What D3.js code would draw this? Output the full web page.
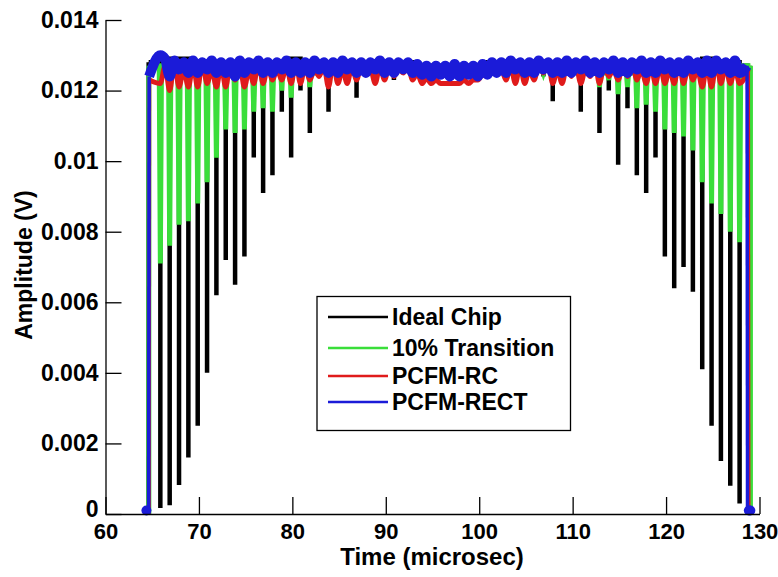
<!DOCTYPE html>
<html>
<head>
<meta charset="utf-8">
<script src="https://cdn.jsdelivr.net/npm/d3@7"></script>
<style>
  html, body { margin: 0; padding: 0; background: #fff; }
  svg { display: block; }
  text { font-family: "Liberation Sans", Arial, sans-serif; font-weight: bold; fill: #000; }
</style>
</head>
<body>
<svg id="chart" width="778" height="577"></svg>
<script>
// ---- axis ticks ----
const xTicks = [60, 70, 80, 90, 100, 110, 120, 130];
const yTicks = [0, 0.002, 0.004, 0.006, 0.008, 0.01, 0.012, 0.014];
const yTickLabels = ["0", "0.002", "0.004", "0.006", "0.008", "0.01", "0.012", "0.014"];

// ---- series ----
const seriesNames = ["Ideal Chip", "10% Transition", "PCFM-RC", "PCFM-RECT"];

// chip boundary times (microsec), one per phase change between consecutive chips
const edgeTimes = [
  65.87, 66.87, 67.87, 68.87, 69.87, 70.87, 71.87, 72.87, 73.87, 74.87,
  75.87, 76.87, 77.87, 78.87, 79.87, 80.87, 81.87, 82.87, 83.87, 84.87,
  85.87, 86.87, 87.87, 88.87, 89.87, 90.87, 91.87, 92.87, 93.87, 94.87,
  95.87, 96.87, 97.87, 98.87, 99.87, 100.87, 101.87, 102.87, 103.87, 104.87,
  105.87, 106.87, 107.87, 108.87, 109.87, 110.87, 111.87, 112.87, 113.87, 114.87,
  115.87, 116.87, 117.87, 118.87, 119.87, 120.87, 121.87, 122.87, 123.87, 124.87,
  125.87, 126.87, 127.87
];

// pulse on / off times per series (microsec)
const riseTimes = [64.62, 64.64, 64.66, 64.62];
const fallTimes = [128.95, 129.03, 128.85, 128.72];

// Ideal Chip: amplitude over each chip (V) and minimum at each boundary (V)
const idealLevel = [
  0.0128, 0.0129, 0.0128, 0.0129, 0.0128, 0.0127, 0.0128, 0.0127, 0.0127, 0.0128,
  0.0127, 0.0127, 0.0128, 0.0127, 0.0127, 0.0129, 0.0127, 0.0127, 0.0128, 0.0127,
  0.0128, 0.0127, 0.0127, 0.0127, 0.0127, 0.0127, 0.0127, 0.0128, 0.0127, 0.0127,
  0.0127, 0.0127, 0.0127, 0.0127, 0.0127, 0.0127, 0.0128, 0.0127, 0.0127, 0.0127,
  0.0128, 0.0127, 0.0127, 0.0127, 0.0128, 0.0127, 0.0127, 0.0127, 0.0128, 0.0127,
  0.0127, 0.0128, 0.0127, 0.0127, 0.0127, 0.0128, 0.0127, 0.0128, 0.0127, 0.0129,
  0.0128, 0.0127, 0.0128, 0.0127
];
const idealDip = [
  0.00017, 0.00025, 0.00082, 0.0016, 0.0025, 0.0040, 0.0062, 0.0072, 0.0065, 0.0073,
  0.0101, 0.0091, 0.0096, 0.0114, 0.0101, 0.0120, 0.0108, 0.0124, 0.0114, 0.0122,
  0.0125, 0.0118, 0.0124, 0.0125, 0.0126, 0.0123, 0.0126, 0.0125, 0.0126, 0.0126,
  0.0126, 0.0126, 0.0126, 0.0126, 0.0125, 0.0126, 0.0126, 0.0125, 0.0123, 0.0126,
  0.0125, 0.0124, 0.0117, 0.0125, 0.0124, 0.0114, 0.0124, 0.0108, 0.0120, 0.0099,
  0.0115, 0.0096, 0.0091, 0.0101, 0.0073, 0.0064, 0.0070, 0.0063, 0.0041, 0.0025,
  0.0015, 0.0008, 0.0003
];

// 10% Transition
const transLevel = [
  0.0127, 0.0127, 0.0125, 0.0126, 0.0125, 0.0125, 0.0126, 0.0125, 0.0125, 0.0126,
  0.0125, 0.0125, 0.0126, 0.0125, 0.0126, 0.0125, 0.0126, 0.0125, 0.0126, 0.0126,
  0.0126, 0.0126, 0.0126, 0.0127, 0.0126, 0.0126, 0.0127, 0.0126, 0.0126, 0.0126,
  0.0126, 0.0126, 0.0126, 0.0126, 0.0126, 0.0126, 0.0127, 0.0126, 0.0126, 0.0126,
  0.0126, 0.0126, 0.0126, 0.0126, 0.0125, 0.0126, 0.0125, 0.0126, 0.0125, 0.0126,
  0.0125, 0.0125, 0.0126, 0.0125, 0.0125, 0.0126, 0.0125, 0.0125, 0.0126, 0.0125,
  0.0125, 0.0126, 0.0125, 0.0127
];
const transDip = [
  0.0071, 0.0076, 0.0082, 0.0083, 0.0088, 0.0094, 0.0101, 0.0109, 0.0108, 0.0109,
  0.0114, 0.0115, 0.0114, 0.0120, 0.0118, 0.0123, 0.0121, 0.0125, 0.0122, 0.0124,
  0.0125, 0.0123, 0.0125, 0.0126, 0.0125, 0.0125, 0.0126, 0.0126, 0.0126, 0.0126,
  0.0126, 0.0126, 0.0126, 0.0126, 0.0126, 0.0126, 0.0126, 0.0126, 0.0125, 0.0126,
  0.0125, 0.0125, 0.0123, 0.0125, 0.0125, 0.0122, 0.0125, 0.0121, 0.0123, 0.0119,
  0.0121, 0.0115, 0.0116, 0.0114, 0.0109, 0.0108, 0.0107, 0.0103, 0.0094, 0.0088,
  0.0085, 0.0080, 0.0077
];

// PCFM-RC
const rcLevel = [
  0.0123, 0.0127, 0.0128, 0.0126, 0.0127, 0.0128, 0.0126, 0.0127, 0.0128, 0.0127,
  0.0126, 0.0128, 0.0127, 0.0126, 0.0127, 0.0128, 0.0127, 0.0126, 0.0127, 0.0128,
  0.0126, 0.0127, 0.0127, 0.0126, 0.0127, 0.0127, 0.0126, 0.0127, 0.0125, 0.01235,
  0.0123, 0.0122, 0.0122, 0.0123, 0.0123, 0.01245, 0.0127, 0.0126, 0.0127, 0.0127,
  0.0126, 0.0127, 0.0128, 0.0126, 0.0127, 0.0127, 0.0126, 0.0128, 0.0127, 0.0126,
  0.0127, 0.0128, 0.0126, 0.0127, 0.0127, 0.0126, 0.0128, 0.0127, 0.0126, 0.0127,
  0.0128, 0.0127, 0.0126, 0.0126
];
const rcDip = [
  0.0122, 0.0120, 0.0121, 0.0121, 0.0121, 0.0122, 0.0121, 0.0121, 0.0123, 0.0121,
  0.0122, 0.0122, 0.0123, 0.0123, 0.0122, 0.0122, 0.0123, 0.0124, 0.0121, 0.0122,
  0.0122, 0.0123, 0.0125, 0.0122, 0.0123, 0.0124, 0.0125, 0.0123, 0.0122, 0.0122,
  0.0122, 0.0122, 0.0122, 0.0122, 0.0123, 0.0124, 0.0125, 0.0123, 0.0122, 0.0122,
  0.0123, 0.0125, 0.0122, 0.0122, 0.0124, 0.0122, 0.0124, 0.0122, 0.0124, 0.0123,
  0.0124, 0.0123, 0.0122, 0.0122, 0.0122, 0.0122, 0.0122, 0.0123, 0.0121, 0.0121,
  0.0122, 0.0122, 0.0122
];

// PCFM-RECT
const rectLevel = [
  0.0124, 0.0129, 0.01285, 0.0128, 0.01285, 0.0128, 0.01285, 0.0128, 0.0128, 0.01285,
  0.0128, 0.01285, 0.0128, 0.0128, 0.01285, 0.0128, 0.0128, 0.01285, 0.0128, 0.0128,
  0.01285, 0.0128, 0.0128, 0.0128, 0.01285, 0.0128, 0.0128, 0.0128, 0.01275, 0.0127,
  0.0127, 0.0127, 0.01275, 0.0127, 0.0127, 0.01275, 0.0128, 0.0128, 0.01285, 0.0128,
  0.0128, 0.01285, 0.0128, 0.0128, 0.01285, 0.0128, 0.01285, 0.0128, 0.0128, 0.01285,
  0.0128, 0.0128, 0.01285, 0.0128, 0.01285, 0.0128, 0.0128, 0.01285, 0.0128, 0.01285,
  0.01285, 0.0128, 0.01285, 0.0127
];
const rectDip = [
  0.0130, 0.0124, 0.0126, 0.0125, 0.0125, 0.0126, 0.0125, 0.0125, 0.0124, 0.0125,
  0.0126, 0.0125, 0.0125, 0.0126, 0.0125, 0.0125, 0.0125, 0.0126, 0.0125, 0.0125,
  0.0126, 0.0125, 0.0125, 0.0126, 0.0125, 0.0125, 0.0126, 0.0125, 0.01245, 0.0124,
  0.01245, 0.0124, 0.0124, 0.01245, 0.0124, 0.01245, 0.0125, 0.0125, 0.0126, 0.0125,
  0.0125, 0.0126, 0.0125, 0.0125, 0.0125, 0.0126, 0.0125, 0.0125, 0.0126, 0.0125,
  0.0125, 0.0126, 0.0125, 0.0125, 0.0126, 0.0125, 0.0125, 0.0126, 0.0125, 0.0125,
  0.0126, 0.0125, 0.0125
];
// PCFM-RECT samples at the floor, before and after the pulse
const rectFloorTimes = [64.38, 128.86, 129.02];
const rectFloorValues = [0.0001, 0.0001, 0.0001];

// ---- styling ----
const seriesColors = ["#000000", "#3ade3a", "#e01b1b", "#1b1bd8"];
const plateauWidths = [4.5, 5, 5, 10];  // stroke along the pulse top
const edgeWidths = [4.5, 5, 3.5, 3.5];  // stroke on the leading / trailing edges

// ---- layout ----
const svg = d3.select("#chart");
const x = d3.scaleLinear().domain(d3.extent(xTicks)).range([105.5, 759.5]);
const y = d3.scaleLinear().domain(d3.extent(yTicks)).range([514, 20]);

// Step trace: flat chips, dropping to the boundary minimum at each chip edge.
function stepTrace(level, dip, rise, fall, halfWidth) {
  const pts = [[rise, 0], [rise, level[0]]];
  edgeTimes.forEach((t, j) => {
    pts.push([t - halfWidth, level[j]], [t, dip[j]], [t + halfWidth, level[j + 1]]);
  });
  pts.push([fall, level[level.length - 1]], [fall, 0]);
  return pts;
}

// Smooth trace: one sample per chip and one per chip edge.
function smoothTrace(level, dip, rise, fall) {
  const n = level.length;
  const pts = [[rise, 0], [rise + 0.05, level[0]]];
  edgeTimes.forEach((t, j) => {
    pts.push([t, dip[j]]);
    const next = j + 1;
    if (next < n - 1) pts.push([(t + edgeTimes[next]) / 2, level[next]]);
  });
  pts.push([fall - 0.05, level[n - 1]], [fall, 0]);
  return pts;
}

const traces = [
  { pts: stepTrace(idealLevel, idealDip, riseTimes[0], fallTimes[0], 0), curve: d3.curveLinear },
  { pts: stepTrace(transLevel, transDip, riseTimes[1], fallTimes[1], 0.12), curve: d3.curveLinear },
  { pts: smoothTrace(rcLevel, rcDip, riseTimes[2], fallTimes[2]), curve: d3.curveMonotoneX },
  { pts: smoothTrace(rectLevel, rectDip, riseTimes[3], fallTimes[3]), curve: d3.curveMonotoneX }
];

const plot = svg.append("g");
traces.forEach((tr, i) => {
  const line = d3.line().x(d => x(d[0])).y(d => y(d[1])).curve(tr.curve);
  const n = tr.pts.length;
  const parts = [
    { pts: tr.pts.slice(1, n - 1), w: plateauWidths[i], curve: tr.curve },
    { pts: tr.pts.slice(0, 2), w: edgeWidths[i], curve: d3.curveLinear },
    { pts: tr.pts.slice(n - 2), w: edgeWidths[i], curve: d3.curveLinear }
  ];
  const g = plot.append("g");
  parts.forEach(p => {
    g.append("path")
      .attr("d", line.curve(p.curve)(p.pts))
      .attr("fill", "none")
      .attr("stroke", seriesColors[i])
      .attr("stroke-width", p.w)
      .attr("stroke-linejoin", "miter")
      .attr("stroke-miterlimit", 4);
  });
});

plot.selectAll("circle.floor")
  .data(rectFloorTimes.map((t, i) => [t, rectFloorValues[i]]))
  .join("circle")
  .attr("class", "floor")
  .attr("cx", d => x(d[0]))
  .attr("cy", d => y(d[1]))
  .attr("r", 5)
  .attr("fill", seriesColors[3]);

// ---- axes ----
const xAxis = d3.axisBottom(x)
  .tickValues(xTicks)
  .tickFormat(d3.format("d"))
  .tickSizeInner(-17)
  .tickSizeOuter(0)
  .tickPadding(9);
const yAxis = d3.axisLeft(y)
  .tickValues(yTicks)
  .tickFormat((d, i) => yTickLabels[i])
  .tickSizeInner(-16)
  .tickSizeOuter(0)
  .tickPadding(7);

const gx = svg.append("g").attr("transform", "translate(0,514)").call(xAxis);
const gy = svg.append("g").attr("transform", "translate(105.5,0)").call(yAxis);
[gx, gy].forEach(g => {
  g.selectAll("path, line").attr("stroke", "#000").attr("stroke-width", 1.3);
  g.selectAll("text")
    .attr("fill", "#000")
    .style("font-family", "'Liberation Sans', Arial, sans-serif")
    .style("font-weight", "bold");
});
gx.selectAll("text").style("font-size", "22px");
gy.selectAll("text").style("font-size", "23px");
// the zero label sits a little above its tick so it clears the "60" below
gy.selectAll(".tick").filter(d => d === 0).select("text").attr("dy", "0.1em");

svg.append("text")
  .attr("x", 432).attr("y", 565)
  .attr("text-anchor", "middle")
  .style("font-size", "24px")
  .text("Time (microsec)");

svg.append("text")
  .attr("transform", "translate(32,265) rotate(-90)")
  .attr("text-anchor", "middle")
  .style("font-size", "23px")
  .text("Amplitude (V)");

// ---- legend ----
const legend = svg.append("g");
legend.append("rect")
  .attr("x", 317).attr("y", 296.5)
  .attr("width", 253.5).attr("height", 134)
  .attr("fill", "#fff").attr("stroke", "#000").attr("stroke-width", 1.3);
const legendBaselines = [325, 356, 384, 410];
seriesNames.forEach((name, i) => {
  const yb = legendBaselines[i];
  legend.append("line")
    .attr("x1", 328).attr("x2", 388)
    .attr("y1", yb - 8).attr("y2", yb - 8)
    .attr("stroke", seriesColors[i]).attr("stroke-width", 2.5);
  legend.append("text")
    .attr("x", 392).attr("y", yb)
    .style("font-size", "23px")
    .text(name);
});
</script>
</body>
</html>
